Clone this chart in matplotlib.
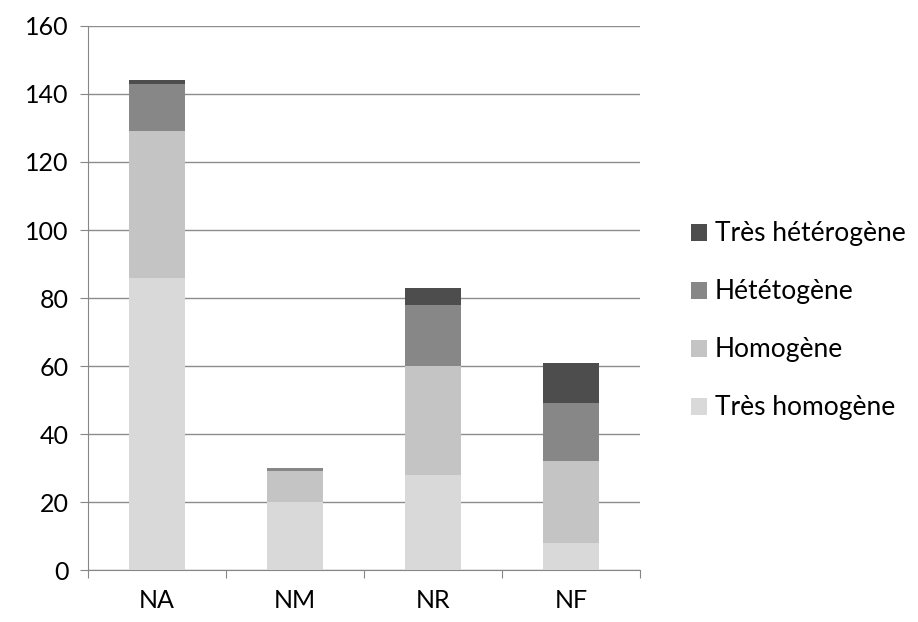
import matplotlib.pyplot as plt
import numpy as np

categories = ['NA', 'NM', 'NR', 'NF']
tres_homogene = [86, 20, 28, 8]
homogene = [43, 9, 32, 24]
heterogene = [14, 1, 18, 17]
tres_heterogene = [1, 0, 5, 12]

series = [
    ('Très homogène', tres_homogene, '#d9d9d9'),
    ('Homogène', homogene, '#c4c4c4'),
    ('Hététogène', heterogene, '#878787'),
    ('Très hétérogène', tres_heterogene, '#4d4d4d'),
]

plt.rcParams['font.family'] = ['Lato', 'DejaVu Sans']

fig = plt.figure(figsize=(9.18, 6.22), dpi=100)
ax = fig.add_axes([0.0959, 0.0836, 0.6013, 0.8746])

x = np.arange(len(categories))
bottom = np.zeros(len(categories))
handles = []
for label, vals, color in series:
    b = ax.bar(x, vals, 0.4, bottom=bottom, color=color, label=label, zorder=3)
    handles.append(b)
    bottom += np.array(vals)

ax.set_ylim(0, 160)
ax.set_xlim(-0.5, 3.5)
ax.set_yticks(range(0, 161, 20))
ax.yaxis.grid(True, color='#8c8c8c', linewidth=1)
ax.set_axisbelow(True)

ax.set_xticks(np.arange(-0.5, 4, 1))
ax.set_xticklabels([])
ax.set_xticks(x, minor=True)
ax.set_xticklabels(categories, minor=True)
ax.tick_params(axis='x', which='major', length=6, color='#868686')
ax.tick_params(axis='x', which='minor', length=0, pad=14, labelsize=18)
ax.tick_params(axis='y', length=6, color='#868686', labelsize=18, pad=8)

for s in ['top', 'right']:
    ax.spines[s].set_visible(False)
for s in ['left', 'bottom']:
    ax.spines[s].set_color('#868686')

leg = fig.legend(handles[::-1], [h.get_label() for h in handles[::-1]],
                 loc='center left', bbox_to_anchor=(0.727, 0.484), frameon=False,
                 fontsize=19, handlelength=0.6, handleheight=0.6,
                 handletextpad=0.3, labelspacing=1.25)

fig.savefig('out.png', dpi=100)
